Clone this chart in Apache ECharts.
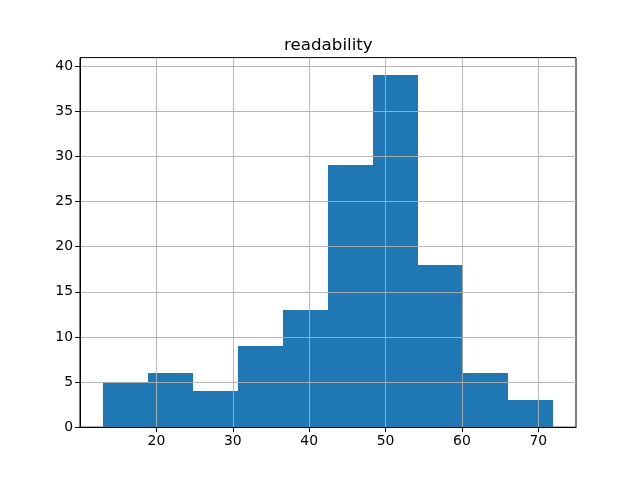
<!DOCTYPE html>
<html>
<head>
<meta charset="utf-8">
<script src="https://cdn.jsdelivr.net/npm/echarts@6/dist/echarts.min.js"></script>
<style>html,body{margin:0;padding:0;background:#fff}#c{width:640px;height:480px}</style>
</head>
<body>
<div id="c"></div>
<script>
const binEdges = [12.96, 18.86, 24.76, 30.66, 36.56, 42.47, 48.37, 54.27, 60.17, 66.08, 71.98];
const counts = [5, 6, 4, 9, 13, 29, 39, 18, 6, 3];
const xTicks = [20, 30, 40, 50, 60, 70];
const yTicks = [0, 5, 10, 15, 20, 25, 30, 35, 40];
const title = 'readability';

const data = counts.map((c, i) => [binEdges[i], binEdges[i + 1], c]);
const font = 'DejaVu Sans';
const chart = echarts.init(document.getElementById('c'), null, {renderer: 'canvas'});
chart.setOption({
  animation: false,
  backgroundColor: '#fff',
  title: {
    text: title, left: 279, top: 32,
    textStyle: {fontFamily: font, fontSize: 16.7, fontWeight: 'normal', color: '#000'}
  },
  grid: {left: 80, right: 64, top: 57.6, bottom: 52.8, show: true, borderColor: '#000', borderWidth: 1, backgroundColor: 'transparent'},
  xAxis: {
    type: 'value', min: 10, max: 74.93, interval: 10, z: 5,
    axisLine: {show: true, lineStyle: {color: '#000', width: 1}},
    axisTick: {show: true, length: 4.9, customValues: xTicks, lineStyle: {color: '#000'}},
    axisLabel: {customValues: xTicks, margin: 7, fontFamily: font, fontSize: 13.9, color: '#000'},
    splitLine: {show: true, lineStyle: {color: '#b0b0b0', width: 0.9}}
  },
  yAxis: {
    type: 'value', min: 0, max: 40.95, interval: 5, z: 5,
    axisLine: {show: true, lineStyle: {color: '#000', width: 1}},
    axisTick: {show: true, length: 4.9, customValues: yTicks, lineStyle: {color: '#000'}},
    axisLabel: {customValues: yTicks, margin: 7, fontFamily: font, fontSize: 13.9, color: '#000'},
    splitLine: {show: true, lineStyle: {color: '#b0b0b0', width: 0.9}}
  },
  series: [{
    type: 'custom', z: 1,
    renderItem: function (params, api) {
      const p0 = api.coord([api.value(0), api.value(2)]);
      const p1 = api.coord([api.value(1), 0]);
      const x0 = Math.round(p0[0]), x1 = Math.round(p1[0]);
      const y0 = Math.round(p0[1]), y1 = p1[1];
      return {type: 'rect', shape: {x: x0, y: y0, width: x1 - x0, height: y1 - y0}, style: {fill: '#1f77b4'}};
    },
    encode: {x: [0, 1], y: 2},
    data: data
  }]
});
</script>
</body>
</html>
